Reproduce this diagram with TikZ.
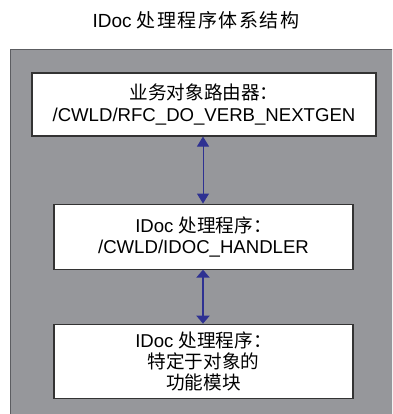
\documentclass[tikz,border=0pt]{standalone}
\usepackage{fontspec}
\setmainfont{Liberation Sans}
\newfontfamily\cjk{Noto Sans CJK SC}
\newfontfamily\cjkwide[LetterSpace=8]{Noto Sans CJK SC}
\usetikzlibrary{arrows.meta,positioning}
\definecolor{panelfill}{HTML}{96979B}
\definecolor{paneldraw}{HTML}{5C5D61}
\definecolor{linkblue}{HTML}{2E3192}

\begin{document}
\begin{tikzpicture}[x=1pt,y=1pt,
  box/.style={draw=black!80, line width=1.1pt, fill=white, align=center, inner sep=0pt, font=\fontsize{18.6}{21}\selectfont},
  link/.style={{Triangle[length=10pt,width=12pt]}-{Triangle[length=10pt,width=12pt]}, linkblue, line width=1pt},
  boldlink/.style={{Triangle[length=8pt,width=13pt]}-{Triangle[length=8pt,width=13pt]}, linkblue, line width=2.6pt}
]
  \useasboundingbox (0,0) rectangle (392,-414);
  \clip (0,0) rectangle (392,-414);

  % grey panel behind the boxes
  \draw[paneldraw, fill=panelfill, line width=1pt] (10,-50) rectangle (400,-420);

  \node[font=\fontsize{19}{22}\selectfont] (title) at (196,-20) {IDoc {\cjkwide 处理程序体系结构}};

  \node[box, minimum width=344pt, minimum height=63pt] (router) at (204,-104.5)
    {{\cjk 业务对象路由器：}\\/CWLD/RFC\_DO\_VERB\_NEXTGEN};
  \node[box, minimum width=299pt, minimum height=65pt, below=67pt of router, xshift=-0.5pt] (handler)
    {IDoc {\cjk 处理程序：}\\/CWLD/IDOC\_HANDLER};
  \node[box, minimum width=299pt, minimum height=74pt, below=54pt of handler] (module)
    {IDoc {\cjk 处理程序：}\\{\cjk 特定于对象的}\\{\cjk 功能模块}};

  \draw[link] ([xshift=-1pt]router.south) -- ([xshift=-0.5pt]handler.north);
  \draw[boldlink] ([xshift=-0.5pt]handler.south) -- ([xshift=-0.5pt]module.north);
\end{tikzpicture}
\end{document}
